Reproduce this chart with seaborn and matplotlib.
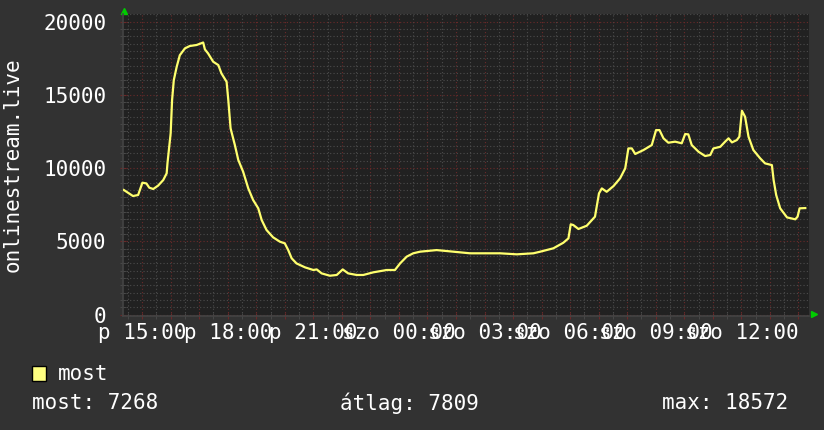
import matplotlib
matplotlib.use("Agg")
import matplotlib.pyplot as plt
from matplotlib.ticker import MultipleLocator, FuncFormatter
from matplotlib.patches import Rectangle
import pandas as pd
import seaborn as sns

# hours after Friday 15:00
hours = [-0.64, -0.32, -0.14, 0.01, 0.15, 0.25, 0.39, 0.56, 0.74, 0.86, 0.89, 1.00,
         1.05, 1.11, 1.21, 1.32, 1.50, 1.67, 1.91, 2.14, 2.20, 2.31, 2.49, 2.67,
         2.78, 2.96, 3.02, 3.10, 3.25, 3.37, 3.54, 3.72, 3.89, 4.07, 4.19, 4.36,
         4.59, 4.83, 5.00, 5.12, 5.24, 5.41, 5.71, 6.00, 6.12, 6.29, 6.58, 6.82,
         7.03, 7.22, 7.52, 7.75, 8.10, 8.57, 8.86, 9.04, 9.27, 9.50, 9.74, 10.32,
         10.91, 11.49, 12.54, 13.13, 13.71, 13.95, 14.41, 14.76, 14.94, 15.02, 15.11, 15.29,
         15.58, 15.87, 16.01, 16.11, 16.28, 16.52, 16.75, 16.93, 17.04, 17.16, 17.28, 17.57,
         17.86, 18.01, 18.13, 18.27, 18.44, 18.68, 18.91, 19.03, 19.14, 19.26, 19.50, 19.73,
         19.91, 20.02, 20.26, 20.43, 20.55, 20.67, 20.84, 20.93, 21.02, 21.13, 21.25, 21.42,
         21.66, 21.83, 22.07, 22.13, 22.22, 22.36, 22.60, 22.89, 22.97, 23.04, 23.24]
viewers = [8500, 8090, 8160, 9000, 8950, 8660, 8570, 8800, 9180, 9640, 10360, 12370,
           14640, 16000, 16900, 17700, 18170, 18330, 18400, 18570, 18100, 17830, 17260, 17030,
           16460, 15890, 14640, 12710, 11570, 10550, 9750, 8610, 7820, 7250, 6450, 5770,
           5270, 4970, 4860, 4400, 3840, 3490, 3220, 3040, 3080, 2810, 2650, 2700,
           3080, 2810, 2700, 2700, 2880, 3040, 3040, 3490, 3950, 4180, 4290, 4400,
           4290, 4180, 4180, 4110, 4180, 4290, 4520, 4900, 5200, 6160, 6110, 5840,
           6060, 6680, 8270, 8610, 8380, 8770, 9300, 9980, 11340, 11340, 10960, 11230,
           11570, 12590, 12590, 12030, 11730, 11800, 11690, 12320, 12300, 11570, 11110, 10820,
           10890, 11340, 11450, 11800, 12030, 11750, 11910, 12140, 13910, 13500, 12140, 11230,
           10660, 10320, 10200, 9180, 8160, 7250, 6630, 6500, 6680, 7250, 7268]

tick_hours = [0, 3, 6, 9, 12, 15, 18, 21]
tick_labels = ['p 15:00', 'p 18:00', 'p 21:00', 'szo 00:00',
               'szo 03:00', 'szo 06:00', 'szo 09:00', 'szo 12:00']

stat_names = ['most', 'átlag', 'max']
stat_values = [7268, 7809, 18572]

plt.rcParams['font.family'] = ['DejaVu Sans Mono']
FS = 15

fig = plt.figure(figsize=(8.24, 4.30), dpi=100, facecolor='#323232')
ax = fig.add_axes([123 / 824, 1 - 316 / 430, 686 / 824, 302.5 / 430])
ax.set_facecolor('#212121')

df = pd.DataFrame({'hours': hours, 'viewers': viewers})
sns.lineplot(data=df, x='hours', y='viewers', ax=ax, color='#ffff6e',
             linewidth=1.6, zorder=5)

ax.set_xlim(-0.67, 23.37)
ax.set_ylim(-100, 20550)

ax.xaxis.set_major_locator(MultipleLocator(1))
ax.xaxis.set_minor_locator(MultipleLocator(0.5))
ax.yaxis.set_major_locator(MultipleLocator(5000))
ax.yaxis.set_minor_locator(MultipleLocator(500))
labels = dict(zip(tick_hours, tick_labels))
ax.xaxis.set_major_formatter(FuncFormatter(lambda v, p: labels.get(int(round(v)), '')))

ax.set_axisbelow(True)
ax.grid(which='minor', color='#4c4c4c', linestyle=(0, (1, 2)), linewidth=0.8)
ax.grid(which='major', color='#6a2a2a', linestyle=(0, (1, 2)), linewidth=0.8)

ax.tick_params(which='major', length=4, direction='inout', color='#6a2a2a',
               labelcolor='white', labelsize=FS)
ax.tick_params(which='minor', length=4, direction='inout', color='#4c4c4c')
ax.tick_params(axis='y', pad=10)
ax.tick_params(axis='x', pad=3)

for s in ['top', 'right']:
    ax.spines[s].set_visible(False)
for s in ['left', 'bottom']:
    ax.spines[s].set_color('#444444')
    ax.spines[s].set_linewidth(1.2)

ax.set_xlabel('')
ax.set_ylabel('onlinestream.live', color='white', fontsize=FS)
ax.yaxis.set_label_coords(-0.147, 0.5)

# rrdtool style axis arrows
ax.plot([0.002], [1.008], marker='^', color='#00cc00', ms=5,
        transform=ax.transAxes, clip_on=False)
ax.plot([1.007], [0.005], marker='>', color='#00cc00', ms=5,
        transform=ax.transAxes, clip_on=False)

# legend
fig.patches.append(Rectangle((32 / 824, 1 - 381 / 430), 14 / 824, 15 / 430,
                             transform=fig.transFigure, facecolor='#ffff80',
                             edgecolor='black', linewidth=1))
fig.text(58 / 824, 1 - 374 / 430, 'most', color='white', fontsize=FS, va='center')
stat_x = [32, 340, 662]
for name, val, x in zip(stat_names, stat_values, stat_x):
    fig.text(x / 824, 1 - 403 / 430, f'{name}: {val}', color='white',
             fontsize=FS, va='center')

fig.savefig('out.png', dpi=100, facecolor=fig.get_facecolor())
